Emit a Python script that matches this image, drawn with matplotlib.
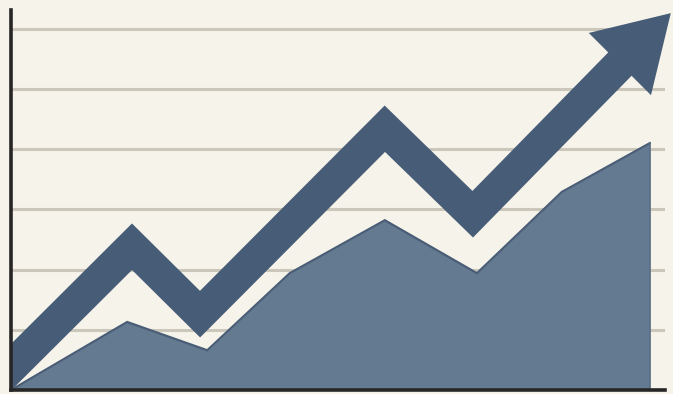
import numpy as np
import matplotlib.pyplot as plt
from matplotlib.patches import Polygon

# Serie del area (valores en unidades de la cuadricula)
area_x = [0.0, 1.93, 3.26, 4.63, 6.21, 7.74, 9.15, 10.61]
area_y = [0.0, 1.13, 0.66, 1.94, 2.82, 1.94, 3.29, 4.10]

# Linea de tendencia con flecha
flecha_x = [-0.5, 2.01, 3.14, 6.21, 7.67, 10.96]
flecha_y = [-0.12, 2.38, 1.26, 4.34, 2.92, 6.26]

grid_y = [1, 2, 3, 4, 5, 6]

fondo = '#F6F3EA'
c_flecha = '#475C77'
c_area = '#647A91'
c_borde = '#4A5D76'

px = 60.2  # pixeles por unidad
f = plt.figure(figsize=(6.73, 3.94), dpi=100, facecolor=fondo)
ax = f.add_axes([11 / 673, 4 / 394, 654 / 673, 380 / 394])
ax.set_facecolor(fondo)
ax.set_xlim(0, 654 / px)
ax.set_ylim(0, 380 / px)

for g in grid_y:
    ax.axhline(g, color='#CBC7BA', lw=2.2, zorder=1)

ax.fill_between(area_x, area_y, 0, color=c_area, lw=0, zorder=2)
ax.plot(area_x, area_y, color=c_borde, lw=1.6, zorder=2.5, solid_joinstyle='miter')
ax.plot([area_x[-1], area_x[-1]], [area_y[-1], 0], color='#5A6F87', lw=1.2, zorder=2.5)

# Cuerpo de la flecha hasta la base de la punta
tip = np.array([flecha_x[-1], flecha_y[-1]])
u = np.array([1.0, 1.0]) / np.sqrt(2)
perp = np.array([-1.0, 1.0]) / np.sqrt(2)
largo_punta = 72 / px
ancho_punta = 44 / px
base = tip - largo_punta * u

xs = flecha_x[:-1] + [base[0] + 0.05]
ys = flecha_y[:-1] + [base[1] + 0.05]
ax.plot(xs, ys, color=c_flecha, lw=33 * 72 / 100, solid_joinstyle='miter',
        solid_capstyle='butt', zorder=3)

punta = Polygon([tip, base + ancho_punta * perp, base - ancho_punta * perp],
                closed=True, facecolor=c_flecha, edgecolor='none', zorder=4, clip_on=False)
ax.add_patch(punta)

for s in ['top', 'right']:
    ax.spines[s].set_visible(False)
for s in ['left', 'bottom']:
    ax.spines[s].set_color('#262626')
    ax.spines[s].set_linewidth(2.6)
    ax.spines[s].set_zorder(5)
ax.set_xticks([])
ax.set_yticks([])

f.savefig('out.png', dpi=100, facecolor=fondo)
